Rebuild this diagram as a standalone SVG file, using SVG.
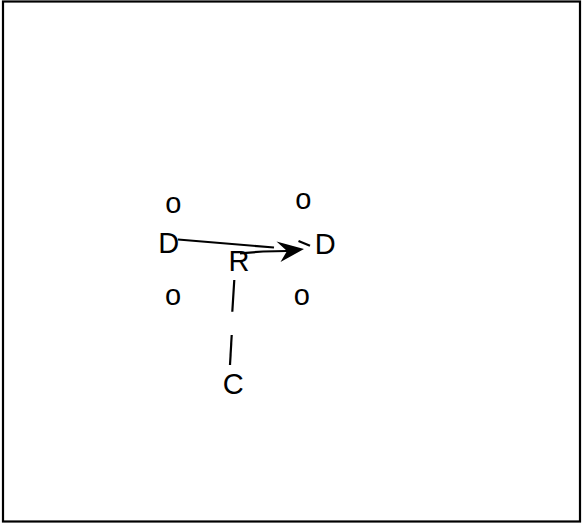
<svg xmlns="http://www.w3.org/2000/svg" width="582" height="523" viewBox="0 0 582 523">
<style>
.t{font-family:"Liberation Sans",Arial,sans-serif;font-size:29px;fill:#000;text-anchor:middle}
.c{stroke:#000;stroke-width:2.2;fill:none;stroke-linecap:butt}
</style>
<rect x="0" y="0" width="582" height="523" fill="#fff"/>
<rect x="3" y="1.5" width="577" height="520" fill="none" stroke="#000" stroke-width="2.2"/>
<g id="connectors">
<line class="c" x1="178" y1="239.5" x2="274" y2="247.5"/>
<polyline class="c" points="240,253.3 263,251.5 287,251"/>
<path d="M304,249 L276.5,241.5 L287,251 L280.5,262 Z" fill="#000"/>
<line class="c" x1="298.5" y1="241" x2="310" y2="245.7"/>
<line class="c" x1="234.3" y1="280" x2="232.3" y2="311.7"/>
<line class="c" x1="231.7" y1="335" x2="230" y2="365"/>
</g>
<g id="o1"><text class="t" x="173.3" y="213.3">o</text></g>
<g id="o2"><text class="t" x="303.3" y="209">o</text></g>
<g id="D1"><text class="t" x="168.7" y="253.3">D</text></g>
<g id="D2"><text class="t" x="325.3" y="254">D</text></g>
<g id="R"><text class="t" x="239" y="270.7">R</text></g>
<g id="o3"><text class="t" x="173" y="305">o</text></g>
<g id="o4"><text class="t" x="301.7" y="305">o</text></g>
<g id="C"><text class="t" x="233.3" y="394">C</text></g>
</svg>
